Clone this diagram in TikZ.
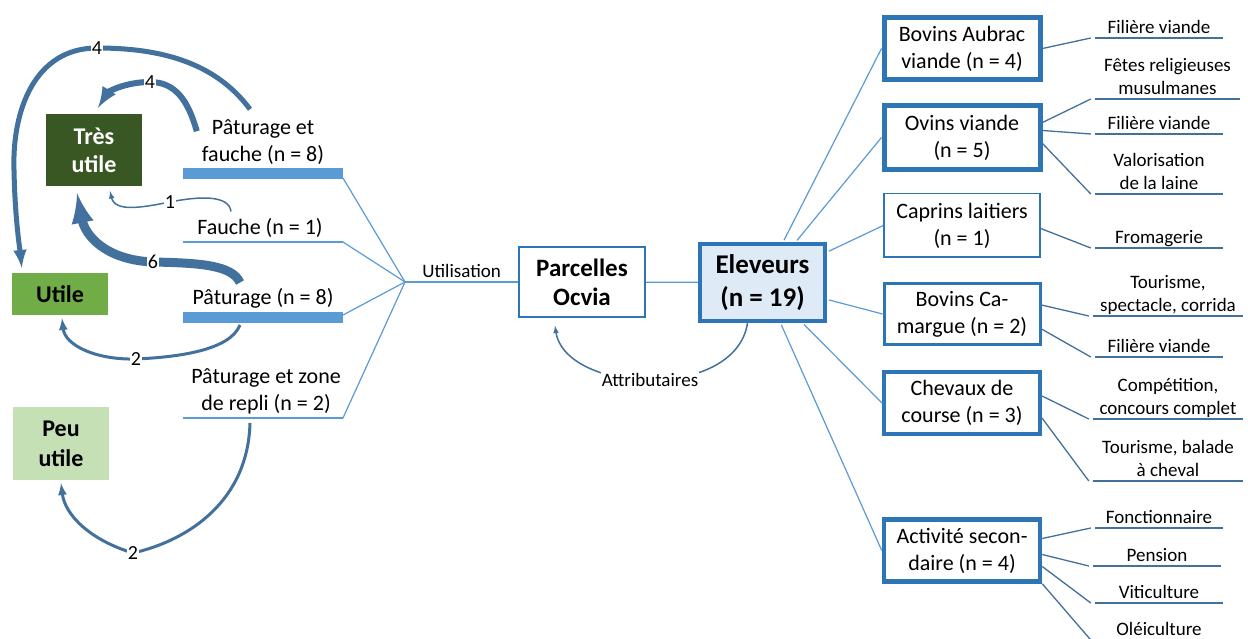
\documentclass[tikz,border=0pt]{standalone}
\usepackage{fontspec}
\setmainfont{Carlito}
\usetikzlibrary{arrows,positioning,calc}
\definecolor{darkgreen}{HTML}{385723}
\definecolor{midgreen}{HTML}{70AD47}
\definecolor{palegreen}{HTML}{C5E0B4}
\definecolor{barblue}{HTML}{5B9BD5}
\definecolor{boxblue}{HTML}{2E75B6}
\definecolor{flowblue}{HTML}{41719C}
\definecolor{paleblue}{HTML}{DEEBF7}

\begin{document}
\begin{tikzpicture}[x=1pt, y=-1pt,
  cat/.style={minimum width=96pt, inner sep=0pt, align=center, font=\fontsize{24}{28}\selectfont\bfseries},
  item/.style={anchor=south, inner sep=0pt, align=center, text depth=6pt, minimum width=160pt, font=\fontsize{22}{27}\selectfont},
  bar/.style={barblue, line width=11pt},
  uline/.style={barblue, line width=1.5pt},
  fan/.style={barblue, line width=1.2pt},
  flow/.style={flowblue, -latex},
  lbl/.style={fill=white, text=black, inner sep=1pt, font=\fontsize{20}{24}\selectfont},
  kind/.style={draw=boxblue, fill=white, minimum width=156pt, minimum height=62pt, inner sep=0pt, align=center, font=\fontsize{22}{27}\selectfont},
  leaf/.style={anchor=south, inner sep=0pt, align=center, text depth=4pt, minimum width=128pt, font=\fontsize{19}{23.5}\selectfont},
  lline/.style={flowblue, line width=1.3pt}]
\path[use as bounding box, fill=white] (0,0) rectangle (1248,639);

% usefulness classes
\node[cat, fill=darkgreen, text=white, minimum height=72pt] (tres) at (94,150) {Très\\utile};
\node[cat, fill=midgreen, minimum height=42pt] (util) at (60,294) {Utile};
\node[cat, fill=palegreen, minimum height=73pt, font=\fontsize{24}{30}\selectfont\bfseries] (peu) at (61,443.5) {Peu\\utile};

% land uses
\node[item] (pf) at (263,167.5) {Pâturage et\\fauche (n = 8)};
\node[item] (fa) at (260,241) {Fauche (n = 1)};
\node[item] (pa) at (263,311) {Pâturage (n = 8)};
\node[item] (pz) at (266,416.5) {Pâturage et zone\\de repli (n = 2)};
\draw[bar] (183,173.5) -- (343,173.5);
\draw[uline] (183,242) -- (343,242);
\draw[bar] (183,317.5) -- (343,317.5);
\draw[uline] (183,418) -- (343,418);

% fan to the plots
\coordinate (pf-end) at (343,178);
\coordinate (fa-end) at (343,242);
\coordinate (pa-end) at (343,315);
\coordinate (pz-end) at (343,418);
\coordinate (hub) at (405,282);
\foreach \e in {pf-end,fa-end,pa-end,pz-end}
  \draw[fan] (\e) -- (hub);

% plots and breeders
\node[draw=boxblue, line width=1.5pt, minimum width=126pt, minimum height=70pt, inner sep=0pt, align=center, font=\fontsize{25}{29}\selectfont\bfseries] (parc) at (582,282) {Parcelles\\Ocvia};
\node[draw=boxblue, fill=paleblue, line width=4pt, minimum width=125pt, minimum height=77pt, inner sep=0pt, align=center, font=\fontsize{27}{33}\selectfont\bfseries] (elev) at (762.5,282.5) {Eleveurs\\(n = 19)};
\draw[fan] (hub) -- node[above=4pt, inner sep=0pt, text=black, font=\fontsize{19}{23}\selectfont] (usage) {Utilisation} (parc);
\draw[fan] (parc) -- (elev);
\draw[flow, line width=1.5pt] ($(elev.south)+(-15,0)$) .. controls (742,360) and (700,380) .. (650,380)
  node[lbl, font=\fontsize{19}{23}\selectfont] (attr) {Attributaires}
  .. controls (600,380) and (560,360) .. ($(parc.south)+(-27,8)$);

% flows to usefulness classes
\draw[flow, line width=5pt] ($(pf.north)+(-13,-10)$) .. controls (215,62) and (160,48) .. (97,48) node[lbl] (n4a) {4}
  .. controls (35,48) and (12,110) .. (14,170) .. controls (15,220) and (20,250) .. ($(util.north west)+(10,-5)$);
\draw[flow, line width=6pt] ($(pf.north west)+(14,12)$) .. controls (188,100) and (175,82) .. (150,82) node[lbl] (n4b) {4}
  .. controls (125,82) and (108,92) .. ($(tres.north)+(4,-6)$);
\draw[flow, line width=1.5pt] ($(fa.north)+(-29,-7)$) .. controls (229,195) and (200,196) .. (170,202) node[lbl] (n1) {1}
  .. controls (140,208) and (115,212) .. ($(tres.south)+(16,5)$);
\draw[flow, line width=9pt] ($(pa.north)+(-23,-6)$) .. controls (232,265) and (200,263) .. (153,262) node[lbl] (n6) {6}
  .. controls (105,260) and (85,235) .. ($(tres.south)+(-17,7)$);
\draw[flow, line width=3pt] ($(pa.south)+(-23,14)$) .. controls (230,350) and (180,357) .. (136,359) node[lbl] (n2a) {2}
  .. controls (95,360) and (65,345) .. ($(util.south)+(2,3)$);
\draw[flow, line width=3pt] ($(pz.south)+(-16,6.5)$) .. controls (248,500) and (190,540) .. (133,553) node[lbl] (n2b) {2}
  .. controls (90,540) and (65,515) .. ($(peu.south)+(0,3)$);

% breeding types
\node[kind, line width=5pt] (aub) at (962,48.5) {Bovins Aubrac\\viande (n = 4)};
\node[kind, line width=5pt, minimum height=64pt] (ovi) at (962,137.5) {Ovins viande\\(n = 5)};
\node[kind, line width=1.5pt, minimum height=63.5pt] (cap) at (962,225.5) {Caprins laitiers\\(n = 1)};
\node[kind, line width=3pt, minimum height=61pt] (cam) at (962,314) {Bovins Ca-\\margue (n = 2)};
\node[kind, line width=4pt] (che) at (962,403) {Chevaux de\\course (n = 3)};
\node[kind, line width=4.5pt] (act) at (962,550.5) {Activité secon-\\daire (n = 4)};
\foreach \k in {aub,ovi,cap,cam,che,act}
  \draw[fan, shorten <=2pt] (elev) -- (\k.west);

% outlets
\node[leaf] (f1) at (1159,38) {Filière viande};
\node[leaf, minimum width=145pt] (f2) at (1167.5,99) {Fêtes religieuses\\musulmanes};
\node[leaf] (f3) at (1159,134) {Filière viande};
\node[leaf] (f4) at (1159,194) {Valorisation\\de la laine};
\node[leaf] (f5) at (1159,248) {Fromagerie};
\node[leaf, minimum width=150pt] (f6) at (1168,316) {Tourisme,\\spectacle, corrida};
\node[leaf] (f7) at (1159,357) {Filière viande};
\node[leaf, minimum width=150pt] (f8) at (1168,419) {Compétition,\\concours complet};
\node[leaf, minimum width=150pt] (f9) at (1168,481) {Tourisme, balade\\à cheval};
\node[leaf] (f10) at (1159,528) {Fonctionnaire};
\node[leaf] (f11) at (1157,566) {Pension};
\node[leaf] (f12) at (1159,603) {Viticulture};
\node[leaf] (f13) at (1159,640) {Oléiculture};
\foreach \l in {f1,f2,f3,f4,f5,f6,f7,f8,f9,f10,f11,f12,f13}
  \draw[lline] (\l.south west) -- (\l.south east);
\draw[lline] (aub.east) -- ([xshift=-4pt]f1.south west);
\draw[lline] ($(ovi.east)+(0,-15)$) -- ([xshift=-4pt]f2.south west);
\draw[lline] ($(ovi.east)+(0,-7)$) -- ([xshift=-4pt]f3.south west);
\draw[lline] ($(ovi.east)+(0,6)$) -- ([xshift=-4pt]f4.south west);
\draw[lline] ($(cap.east)+(0,3)$) -- ([xshift=-4pt]f5.south west);
\draw[lline] ($(cam.east)+(0,-9)$) -- ([xshift=-4pt]f6.south west);
\draw[lline] ($(cam.east)+(0,15)$) -- ([xshift=-4pt]f7.south west);
\draw[lline] ($(che.east)+(0,-7)$) -- ([xshift=-4pt]f8.south west);
\draw[lline] ($(che.east)+(0,15)$) -- ([xshift=-4pt]f9.south west);
\draw[lline] ($(act.east)+(0,-12)$) -- ([xshift=-4pt]f10.south west);
\draw[lline] ($(act.east)+(0,4)$) -- ([xshift=-4pt]f11.south west);
\draw[lline] ($(act.east)+(0,16)$) -- ([xshift=-4pt]f12.south west);
\draw[lline] (act.south east) -- ([xshift=-4pt]f13.south west);
\end{tikzpicture}
\end{document}
